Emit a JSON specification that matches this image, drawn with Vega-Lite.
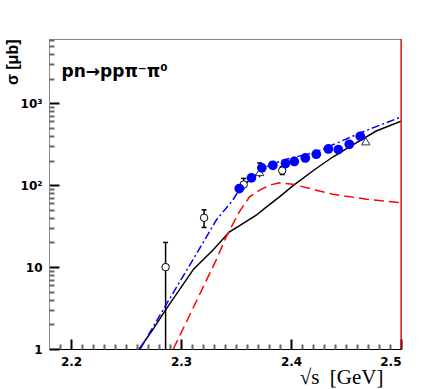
{
  "$schema": "https://vega.github.io/schema/vega-lite/v6.json",
  "width": 352,
  "height": 310,
  "autosize": {"type": "none"},
  "padding": {"left": 49, "top": 39, "right": 46, "bottom": 40},
  "background": "white",
  "config": {
    "view": {"stroke": "#888888", "strokeWidth": 1},
    "axis": {"grid": false, "labelFont": "DejaVu Sans", "labelFontWeight": "bold", "labelFontSize": 12, "labelColor": "black"}
  },
  "datasets": {
    "curves": [
      {"x": 2.262, "y": 1, "model": "black"},
      {"x": 2.275, "y": 1.77, "model": "black"},
      {"x": 2.286, "y": 3.0, "model": "black"},
      {"x": 2.3116, "y": 9.5, "model": "black"},
      {"x": 2.3289, "y": 16.1, "model": "black"},
      {"x": 2.3441, "y": 27, "model": "black"},
      {"x": 2.3562, "y": 34, "model": "black"},
      {"x": 2.3684, "y": 43, "model": "black"},
      {"x": 2.3775, "y": 54, "model": "black"},
      {"x": 2.3895, "y": 72, "model": "black"},
      {"x": 2.4016, "y": 98, "model": "black"},
      {"x": 2.4229, "y": 160, "model": "black"},
      {"x": 2.438, "y": 221, "model": "black"},
      {"x": 2.4532, "y": 293, "model": "black"},
      {"x": 2.4775, "y": 459, "model": "black"},
      {"x": 2.5, "y": 603, "model": "black"},
      {"x": 2.2629, "y": 1, "model": "blue"},
      {"x": 2.2866, "y": 3.5, "model": "blue"},
      {"x": 2.3107, "y": 12.2, "model": "blue"},
      {"x": 2.322, "y": 22, "model": "blue"},
      {"x": 2.332, "y": 37.4, "model": "blue"},
      {"x": 2.347, "y": 65.6, "model": "blue"},
      {"x": 2.353, "y": 88, "model": "blue"},
      {"x": 2.3653, "y": 126, "model": "blue"},
      {"x": 2.3775, "y": 167, "model": "blue"},
      {"x": 2.3925, "y": 202, "model": "blue"},
      {"x": 2.423, "y": 255, "model": "blue"},
      {"x": 2.465, "y": 447, "model": "blue"},
      {"x": 2.5, "y": 681, "model": "blue"},
      {"x": 2.293, "y": 1, "model": "red"},
      {"x": 2.332, "y": 12.2, "model": "red"},
      {"x": 2.341, "y": 23.4, "model": "red"},
      {"x": 2.353, "y": 47.3, "model": "red"},
      {"x": 2.3623, "y": 72, "model": "red"},
      {"x": 2.3714, "y": 87, "model": "red"},
      {"x": 2.3805, "y": 100, "model": "red"},
      {"x": 2.3895, "y": 107, "model": "red"},
      {"x": 2.4016, "y": 103, "model": "red"},
      {"x": 2.4229, "y": 87, "model": "red"},
      {"x": 2.438, "y": 77.7, "model": "red"},
      {"x": 2.4684, "y": 67.5, "model": "red"},
      {"x": 2.5, "y": 60.9, "model": "red"}
    ],
    "filled": [
      {"x": 2.353, "y": 91}, {"x": 2.364, "y": 123}, {"x": 2.3735, "y": 163},
      {"x": 2.3835, "y": 175}, {"x": 2.395, "y": 184}, {"x": 2.403, "y": 195},
      {"x": 2.413, "y": 215}, {"x": 2.423, "y": 239}, {"x": 2.434, "y": 277},
      {"x": 2.443, "y": 272}, {"x": 2.453, "y": 316}, {"x": 2.463, "y": 396}
    ],
    "open": [
      {"x": 2.286, "y": 10}, {"x": 2.321, "y": 40}, {"x": 2.357, "y": 102}, {"x": 2.392, "y": 151}
    ],
    "triangles": [
      {"x": 2.3715, "y": 145}, {"x": 2.468, "y": 344}
    ],
    "errs": [
      {"x": 2.286, "lo": 1, "hi": 20},
      {"x": 2.321, "lo": 30.5, "hi": 50},
      {"x": 2.357, "lo": 88, "hi": 121},
      {"x": 2.392, "lo": 135, "hi": 168},
      {"x": 2.3715, "lo": 125, "hi": 187}
    ],
    "caps": [
      {"x": 2.286, "y": 20},
      {"x": 2.321, "y": 30.5}, {"x": 2.321, "y": 50},
      {"x": 2.357, "y": 121},
      {"x": 2.392, "y": 135}, {"x": 2.392, "y": 168},
      {"x": 2.3715, "y": 187}
    ]
  },
  "layer": [
    {
      "data": {"name": "errs"},
      "mark": {"type": "rule", "color": "black", "strokeWidth": 1.5, "clip": true},
      "encoding": {
        "x": {"field": "x", "type": "quantitative",
          "scale": {"domain": [2.18, 2.5], "nice": false, "zero": false},
          "axis": {"orient": "bottom", "values": [2.2, 2.3, 2.4, 2.5], "format": ".1f", "tickSize": -10, "tickColor": "black", "tickWidth": 2, "domainColor": "black", "labelPadding": 17, "labelBaseline": "top",
            "title": "√s \u00a0[GeV]", "titleFont": "Liberation Serif", "titleFontSize": 21, "titleFontWeight": "normal", "titleColor": "black", "titleAlign": "right", "titleBaseline": "alphabetic", "titleX": 334, "titleY": 34}},
        "y": {"field": "lo", "type": "quantitative",
          "scale": {"type": "log", "domain": [1, 6100], "nice": false},
          "axis": {"orient": "left", "values": [1, 10, 100, 1000], "labelExpr": "datum.value == 1 ? '1' : datum.value == 10 ? '10' : datum.value == 100 ? '10²' : '10³'", "tickSize": -10, "tickColor": "black", "tickWidth": 2, "domainColor": "#888888", "labelPadding": 17,
            "title": "σ [μb]", "titleFont": "Liberation Sans", "titleFontSize": 16, "titleFontWeight": "bold", "titleColor": "black", "titleAngle": -90, "titleAlign": "right", "titleBaseline": "alphabetic", "titleX": -32, "titleY": 0}},
        "y2": {"field": "hi"}
      }
    },
    {
      "data": {"name": "caps"},
      "mark": {"type": "point", "shape": "stroke", "color": "black", "size": 25, "strokeWidth": 1.5, "opacity": 1},
      "encoding": {
        "x": {"field": "x", "type": "quantitative",
          "axis": {"orient": "bottom", "values": [2.19, 2.21, 2.22, 2.23, 2.24, 2.25, 2.26, 2.27, 2.28, 2.29, 2.31, 2.32, 2.33, 2.34, 2.35, 2.36, 2.37, 2.38, 2.39, 2.41, 2.42, 2.43, 2.44, 2.45, 2.46, 2.47, 2.48, 2.49], "offset": -5, "tickSize": 5, "tickColor": "#666666", "tickWidth": 2, "labels": false, "domain": false, "title": null}},
        "y": {"field": "y", "type": "quantitative",
          "axis": {"orient": "left", "values": [2, 3, 4, 5, 6, 7, 8, 9, 20, 30, 40, 50, 60, 70, 80, 90, 200, 300, 400, 500, 600, 700, 800, 900, 2000, 3000, 4000, 5000, 6000], "offset": -5, "tickSize": 5, "tickColor": "#666666", "tickWidth": 2, "labels": false, "domain": false, "title": null}}
      }
    },
    {
      "data": {"name": "curves"},
      "transform": [{"filter": "datum.model == 'black'"}],
      "mark": {"type": "line", "color": "black", "strokeWidth": 1.5, "clip": true},
      "encoding": {"x": {"field": "x", "type": "quantitative", "axis": null}, "y": {"field": "y", "type": "quantitative", "axis": null}}
    },
    {
      "data": {"name": "curves"},
      "transform": [{"filter": "datum.model == 'red'"}],
      "mark": {"type": "line", "color": "#ff0000", "strokeWidth": 1.5, "strokeDash": [10, 5], "clip": true},
      "encoding": {"x": {"field": "x", "type": "quantitative", "axis": null}, "y": {"field": "y", "type": "quantitative", "axis": null}}
    },
    {
      "data": {"name": "curves"},
      "transform": [{"filter": "datum.model == 'blue'"}],
      "mark": {"type": "line", "color": "#0000ff", "strokeWidth": 1.5, "strokeDash": [8, 3, 2, 3], "clip": true},
      "encoding": {"x": {"field": "x", "type": "quantitative", "axis": null}, "y": {"field": "y", "type": "quantitative", "axis": null}}
    },
    {
      "data": {"name": "open"},
      "mark": {"type": "point", "shape": "circle", "filled": true, "fill": "white", "stroke": "black", "strokeWidth": 1, "size": 55, "opacity": 1},
      "encoding": {"x": {"field": "x", "type": "quantitative", "axis": null}, "y": {"field": "y", "type": "quantitative", "axis": null}}
    },
    {
      "data": {"name": "triangles"},
      "mark": {"type": "point", "shape": "triangle-up", "filled": true, "fill": "white", "stroke": "#333333", "strokeWidth": 1, "size": 70, "opacity": 1},
      "encoding": {"x": {"field": "x", "type": "quantitative", "axis": null}, "y": {"field": "y", "type": "quantitative", "axis": null}}
    },
    {
      "data": {"name": "filled"},
      "mark": {"type": "point", "shape": "circle", "filled": true, "color": "#0000ff", "size": 95, "opacity": 1},
      "encoding": {"x": {"field": "x", "type": "quantitative", "axis": null}, "y": {"field": "y", "type": "quantitative", "axis": null}}
    },
    {
      "data": {"values": [{"x": 2.5}]},
      "mark": {"type": "rule", "color": "#ee0000", "strokeWidth": 1.2},
      "encoding": {"x": {"field": "x", "type": "quantitative", "axis": null}}
    },
    {
      "data": {"values": [{"label": "pn→ppπ⁻π⁰"}]},
      "mark": {"type": "text", "font": "DejaVu Sans", "fontWeight": "bold", "fontSize": 17, "align": "left", "baseline": "alphabetic", "color": "black"},
      "encoding": {
        "x": {"datum": 2.1914, "axis": null},
        "y": {"datum": 2100, "axis": null},
        "text": {"field": "label", "type": "nominal"}
      }
    }
  ],
  "resolve": {"axis": {"x": "independent", "y": "independent"}}
}
